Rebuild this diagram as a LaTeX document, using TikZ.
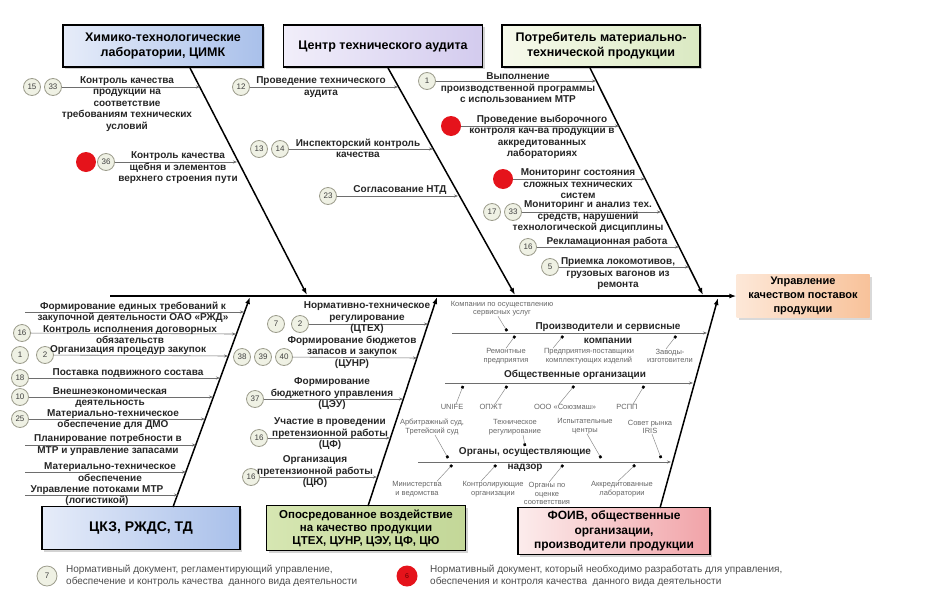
\documentclass[tikz,border=0pt]{standalone}
\usepackage{fontspec}
\setmainfont{Liberation Sans}
\usetikzlibrary{positioning, shapes.geometric, arrows.meta, shadows}

\definecolor{blueL}{HTML}{E6ECF9}
\definecolor{blueR}{HTML}{A9C0EA}
\definecolor{lavL}{HTML}{F1EEFA}
\definecolor{lavR}{HTML}{D3CBEE}
\definecolor{greenL}{HTML}{F7FAEC}
\definecolor{greenR}{HTML}{DAE9C2}
\definecolor{oliveL}{HTML}{D6E6B2}
\definecolor{oliveR}{HTML}{C3D798}
\definecolor{pinkL}{HTML}{FCECEC}
\definecolor{pinkR}{HTML}{F1A3A8}
\definecolor{peachL}{HTML}{FDE8D8}
\definecolor{peachR}{HTML}{F8C29A}
\definecolor{numfill}{HTML}{EFF1E4}
\definecolor{numline}{HTML}{9C9C8C}
\definecolor{dotred}{HTML}{E5131B}
\definecolor{twiggray}{HTML}{6E6E6E}

\begin{document}
\begin{tikzpicture}[x=1pt, y=-1pt]
    \useasboundingbox (0,0) rectangle (933,605);

    % Define styles
    \tikzset{
        headbox/.style={draw, line width=1.4pt, align=center, inner sep=2pt,
            font=\bfseries\fontsize{12.5}{15}\selectfont, minimum height=42pt,
            drop shadow={shadow xshift=2pt, shadow yshift=-2pt, opacity=0.35}},
        goalbox/.style={align=center, inner sep=2pt, left color=peachL, right color=peachR,
            font=\bfseries\fontsize{11}{14}\selectfont, minimum width=133pt, minimum height=43pt,
            drop shadow={shadow xshift=2pt, shadow yshift=-2pt, opacity=0.3}},
        num/.style={circle, draw=numline, fill=numfill, line width=0.8pt, minimum size=17pt,
            inner sep=0pt, font=\fontsize{8}{8}\selectfont, text=black!75},
        reddot/.style={circle, fill=dotred, minimum size=20pt, inner sep=0pt},
        lab/.style={align=center, inner sep=0pt, font=\bfseries\fontsize{10}{11.5}\selectfont, text=black!85},
        minor/.style={align=center, inner sep=0pt, font=\fontsize{7.5}{8.5}\selectfont, text=black!60},
        bone/.style={line width=1.5pt, -{Latex[length=7pt, width=5pt]}},
        twig/.style={draw=twiggray, line width=0.6pt, -{Stealth[length=4pt, width=3pt]}},
        sprig/.style={draw=black!45, line width=0.5pt, -{Square[length=2.5pt, width=2.5pt, color=black]}}
    }

    % Define nodes
    \node[headbox, left color=blueL, right color=blueR, minimum width=200pt] (Himlab) at (163,46) {Химико-технологические\\лаборатории, ЦИМК};
    \node[headbox, left color=lavL, right color=lavR, minimum width=199pt] (Audit) at (383,46) {Центр технического аудита};
    \node[headbox, left color=greenL, right color=greenR, minimum width=198pt] (Consumer) at (601,46) {Потребитель материально-\\технической продукции};
    \node[headbox, left color=blueL, right color=blueR, minimum width=198pt, minimum height=43pt,
        font=\bfseries\fontsize{14}{16}\selectfont] (Ckz) at (141,528) {ЦКЗ, РЖДС, ТД};
    \node[headbox, left color=oliveL, right color=oliveR, minimum width=199pt, minimum height=45pt,
        font=\bfseries\fontsize{11.5}{13}\selectfont] (Indirect) at (366,528) {Опосредованное воздействие\\на качество продукции\\ЦТЕХ, ЦУНР, ЦЭУ, ЦФ, ЦЮ};
    \node[headbox, left color=pinkL, right color=pinkR, minimum width=192pt, minimum height=47pt,
        font=\bfseries\fontsize{12}{14.5}\selectfont] (Foiv) at (614,531) {ФОИВ, общественные\\организации,\\производители продукции};
    \node[goalbox] (Quality) at (803,296) {Управление\\качеством поставок\\продукции};

    % Spine and bones
    \coordinate (Tail) at (110,296);
    \coordinate (T1) at (190,68);  \coordinate (S1) at (307,295);
    \coordinate (T2) at (388,68);  \coordinate (S2) at (515,295);
    \coordinate (T3) at (590,68);  \coordinate (S3) at (703,295);
    \coordinate (T4) at (173,507); \coordinate (S4) at (250,297);
    \coordinate (T5) at (368,506); \coordinate (S5) at (437,297);
    \coordinate (T6) at (660,508); \coordinate (S6) at (718,298);

    \draw[line width=1.8pt, -{Latex[length=7pt, width=5pt]}] (Tail) -- (Quality.west);
    \draw[bone] (T1) -- (S1);
    \draw[bone] (T2) -- (S2);
    \draw[bone] (T3) -- (S3);
    \draw[bone] (T4) -- (S4);
    \draw[bone] (T5) -- (S5);
    \draw[bone] (T6) -- (S6);

    % Himlab branches
    \node[num] (A1a) at (32,87) {15};
    \node[num] (A1b) at (53,87) {33};
    \coordinate (A1e) at (200,87);
    \draw[twig] (A1b) -- (A1e);
    \node[lab] (A1t) at (127,104) {Контроль качества\\продукции на\\соответствие\\требованиям технических\\условий};
    \node[reddot] (A2r) at (86,162) {};
    \node[num] (A2a) at (106,162) {36};
    \coordinate (A2e) at (237,162);
    \draw[twig] (A2a) -- (A2e);
    \node[lab] (A2t) at (178,168) {Контроль качества\\щебня и элементов\\верхнего строения пути};

    % Audit branches
    \node[num] (B1a) at (241,87) {12};
    \coordinate (B1e) at (398,87);
    \draw[twig] (B1a) -- (B1e);
    \node[lab] (B1t) at (321,87) {Проведение технического\\аудита};
    \node[num] (B2a) at (259,149) {13};
    \node[num] (B2b) at (280,149) {14};
    \coordinate (B2e) at (433,149);
    \draw[twig] (B2b) -- (B2e);
    \node[lab] (B2t) at (358,148.5) {Инспекторский контроль\\качества};
    \node[num] (B3a) at (328,196) {23};
    \coordinate (B3e) at (458,196);
    \draw[twig] (B3a) -- (B3e);
    \node[lab] (B3t) at (400,190) {Согласование НТД};

    % Consumer branches
    \node[num] (C1a) at (427,81) {1};
    \coordinate (C1e) at (596,81);
    \draw[twig] (C1a) -- (C1e);
    \node[lab] (C1t) at (518,88) {Выполнение\\производственной программы\\с использованием МТР};
    \node[reddot] (C2r) at (451,126) {};
    \coordinate (C2e) at (619,126);
    \draw[twig] (C2r) -- (C2e);
    \node[lab] (C2t) at (542,137) {Проведение выборочного\\контроля кач-ва продукции в\\аккредитованных\\лабораториях};
    \node[reddot] (C3r) at (503,179) {};
    \coordinate (C3e) at (645,179);
    \draw[twig] (C3r) -- (C3e);
    \node[lab] (C3t) at (578,184) {Мониторинг состояния\\сложных технических\\систем};
    \node[num] (C4a) at (492,212) {17};
    \node[num] (C4b) at (513,212) {33};
    \coordinate (C4e) at (661,212);
    \draw[twig] (C4b) -- (C4e);
    \node[lab] (C4t) at (588,217) {Мониторинг и анализ тех.\\средств, нарушений\\технологической дисциплины};
    \node[num] (C5a) at (528,247) {16};
    \coordinate (C5e) at (679,247);
    \draw[twig] (C5a) -- (C5e);
    \node[lab] (C5t) at (607,242) {Рекламационная работа};
    \node[num] (C6a) at (550,267) {5};
    \coordinate (C6e) at (689,267);
    \draw[twig] (C6a) -- (C6e);
    \node[lab] (C6t) at (618,274) {Приемка локомотивов,\\грузовых вагонов из\\ремонта};

    % Ckz branches
    \coordinate (D1s) at (25,312);
    \coordinate (D1e) at (244,312);
    \draw[twig] (D1s) -- (D1e);
    \node[lab] (D1t) at (133,312.5) {Формирование единых требований к\\закупочной деятельности ОАО «РЖД»};
    \node[num] (D2a) at (22,333) {16};
    \coordinate (D2e) at (236,334);
    \draw[twig] (D2a) -- (D2e);
    \node[lab] (D2t) at (130,334.5) {Контроль исполнения договорных\\обязательств};
    \node[num] (D3a) at (20,355) {1};
    \node[num] (D3b) at (45,355) {2};
    \coordinate (D3e) at (228,356);
    \draw[twig] (D3b) -- (D3e);
    \node[lab] (D3t) at (128,350) {Организация процедур закупок};
    \node[num] (D4a) at (20,378) {18};
    \coordinate (D4e) at (220,378);
    \draw[twig] (D4a) -- (D4e);
    \node[lab] (D4t) at (128,373) {Поставка подвижного состава};
    \node[num] (D5a) at (20,397) {10};
    \coordinate (D5e) at (213,397);
    \draw[twig] (D5a) -- (D5e);
    \node[lab] (D5t) at (110,397.5) {Внешнеэкономическая\\деятельность};
    \node[num] (D6a) at (20,419) {25};
    \coordinate (D6e) at (205,419);
    \draw[twig] (D6a) -- (D6e);
    \node[lab] (D6t) at (113,419.5) {Материально-техническое\\обеспечение для ДМО};
    \coordinate (D7s) at (25,445);
    \coordinate (D7e) at (196,445);
    \draw[twig] (D7s) -- (D7e);
    \node[lab] (D7t) at (108,445) {Планирование потребности в\\МТР и управление запасами};
    \coordinate (D8s) at (25,472);
    \coordinate (D8e) at (186,472);
    \draw[twig] (D8s) -- (D8e);
    \node[lab] (D8t) at (110,472) {Материально-техническое\\обеспечение};
    \coordinate (D9s) at (25,495);
    \coordinate (D9e) at (178,495);
    \draw[twig] (D9s) -- (D9e);
    \node[lab] (D9t) at (97,495.5) {Управление потоками МТР\\(логистикой)};

    % Indirect branches
    \node[num] (E1a) at (276,324) {7};
    \node[num] (E1b) at (300,324) {2};
    \coordinate (E1e) at (428,324);
    \draw[twig] (E1b) -- (E1e);
    \node[lab] (E1t) at (367,318) {Нормативно-техническое\\регулирование\\(ЦТЕХ)};
    \node[num] (E2a) at (242,357) {38};
    \node[num] (E2b) at (263,357) {39};
    \node[num] (E2c) at (284,357) {40};
    \coordinate (E2e) at (417,358);
    \draw[twig] (E2c) -- (E2e);
    \node[lab] (E2t) at (352,352) {Формирование бюджетов\\запасов и закупок\\(ЦУНР)};
    \node[num] (E3a) at (255,399) {37};
    \coordinate (E3e) at (403,399);
    \draw[twig] (E3a) -- (E3e);
    \node[lab] (E3t) at (332,394) {Формирование\\бюджетного управления\\(ЦЭУ)};
    \node[num] (E4a) at (259,438) {16};
    \coordinate (E4e) at (390,438);
    \draw[twig] (E4a) -- (E4e);
    \node[lab] (E4t) at (330,434) {Участие в проведении\\претензионной работы\\(ЦФ)};
    \node[num] (E5a) at (251,477) {16};
    \coordinate (E5e) at (377,477);
    \draw[twig] (E5a) -- (E5e);
    \node[lab] (E5t) at (315,472) {Организация\\претензионной работы\\(ЦЮ)};

    % Foiv sub-branches
    \coordinate (F1s) at (452,333); \coordinate (F1e) at (707,333);
    \coordinate (F2s) at (445,383); \coordinate (F2e) at (693,383);
    \coordinate (F3s) at (418,462); \coordinate (F3e) at (671,462);
    \draw[twig] (F1s) -- (F1e);
    \draw[twig] (F2s) -- (F2e);
    \draw[twig] (F3s) -- (F3e);
    \node[lab, font=\bfseries\fontsize{10}{14}\selectfont] (F1t) at (608,333) {Производители и сервисные\\компании};
    \node[lab] (F2t) at (575,375) {Общественные организации};
    \node[lab, font=\bfseries\fontsize{10}{15}\selectfont] (F3t) at (525,460) {Органы, осуществляющие\\надзор};

    \node[minor] (Fa) at (502,308.5) {Компании по осуществлению\\сервисных услуг};
    \node[minor] (Fb) at (506,356) {Ремонтные\\предприятия};
    \node[minor] (Fc) at (589,356) {Предприятия-поставщики\\комплектующих изделий};
    \node[minor] (Fd) at (670,356) {Заводы-\\изготовители};
    \node[minor] (Fe) at (452,407) {UNIFE};
    \node[minor] (Ff) at (491,407) {ОПЖТ};
    \node[minor] (Fg) at (565,407) {ООО «Союзмаш»};
    \node[minor] (Fh) at (627,407) {РСПП};
    \node[minor] (Fm) at (432,427) {Арбитражный суд,\\Третейский суд};
    \node[minor] (Fn) at (515,427) {Техническое\\регулирование};
    \node[minor] (Fo) at (585,426) {Испытательные\\центры};
    \node[minor] (Fp) at (650,427) {Совет рынка\\IRIS};
    \node[minor] (Fi) at (417,489) {Министерства\\и ведомства};
    \node[minor] (Fj) at (493,489) {Контролирующие\\организации};
    \node[minor] (Fk) at (547,493.5) {Органы по\\оценке\\соответствия};
    \node[minor] (Fl) at (622,489) {Аккредитованные\\лаборатории};

    \coordinate (Fa1) at (507,331);
    \coordinate (Fb1) at (515,336); \coordinate (Fc1) at (563,336); \coordinate (Fd1) at (676,336);
    \coordinate (Fe1) at (463,386); \coordinate (Ff1) at (507,386); \coordinate (Fg1) at (574,386); \coordinate (Fh1) at (644,386);
    \coordinate (Fm1) at (448,458); \coordinate (Fn1) at (525,446); \coordinate (Fo1) at (601,458); \coordinate (Fp1) at (661,458);
    \coordinate (Fi1) at (452,465); \coordinate (Fj1) at (496,465); \coordinate (Fk1) at (563,465); \coordinate (Fl1) at (635,465);

    \draw[sprig] ([xshift=-4pt]Fa.south) -- (Fa1);
    \draw[sprig] (Fb.north) -- (Fb1);
    \draw[sprig] ([xshift=-36pt]Fc.north) -- (Fc1);
    \draw[sprig] ([xshift=-4pt]Fd.north) -- (Fd1);
    \draw[sprig] ([xshift=4pt]Fe.north) -- (Fe1);
    \draw[sprig] ([xshift=4pt]Ff.north) -- (Ff1);
    \draw[sprig] ([xshift=-6pt]Fg.north) -- (Fg1);
    \draw[sprig] ([xshift=6pt]Fh.north) -- (Fh1);
    \draw[sprig] ([xshift=3pt]Fm.south) -- (Fm1);
    \draw[sprig] ([xshift=8pt]Fn.south) -- (Fn1);
    \draw[sprig] ([xshift=2pt]Fo.south) -- (Fo1);
    \draw[sprig] ([xshift=2pt]Fp.south) -- (Fp1);
    \draw[sprig] ([xshift=20pt]Fi.north) -- (Fi1);
    \draw[sprig] ([xshift=-12pt]Fj.north) -- (Fj1);
    \draw[sprig] ([xshift=2pt]Fk.north) -- (Fk1);
    \draw[sprig] ([xshift=-4pt]Fl.north) -- (Fl1);

    % Legend
    \node[num, minimum size=20pt, font=\fontsize{8}{8}\selectfont] (Key1) at (47,576) {7};
    \node[anchor=west, align=left, inner sep=0pt, font=\fontsize{10}{12.5}\selectfont, text=black!70] (Key1t) at (66,576)
        {Нормативный документ, регламентирующий управление,\\ обеспечение и контроль качества \ данного вида деятельности};
    \node[reddot, minimum size=21pt, font=\fontsize{7}{7}\selectfont, text=red!40!black] (Key2) at (407,576) {6};
    \node[anchor=west, align=left, inner sep=0pt, font=\fontsize{10}{12.5}\selectfont, text=black!70] (Key2t) at (430,576)
        {Нормативный документ, который необходимо разработать для управления,\\ обеспечения и контроля качества \ данного вида деятельности};
\end{tikzpicture}
\end{document}
